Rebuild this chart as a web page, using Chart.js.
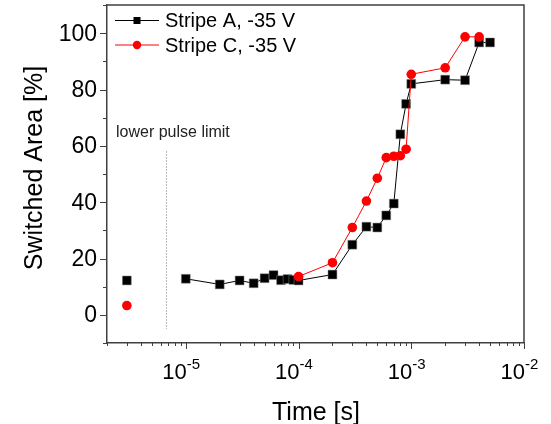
<!DOCTYPE html>
<html>
<head>
<meta charset="utf-8">
<script src="https://cdn.jsdelivr.net/npm/chart.js@4"></script>
<style>
  html, body { margin: 0; padding: 0; background: #fff; }
  #wrap { width: 551px; height: 424px; }
</style>
</head>
<body>
<div id="wrap"><canvas id="switchChart" width="551" height="424"></canvas></div>
<script>
// Switched area vs pulse time
const timesA = [3e-6, 1e-5, 2e-5, 3e-5, 4e-5, 5e-5, 6e-5, 7e-5, 8e-5, 9e-5, 1e-4, 2e-4,
                3e-4, 4e-4, 5e-4, 6e-4, 7e-4, 8e-4, 9e-4, 1e-3, 2e-3, 3e-3, 4e-3, 5e-3];
const areaA = [12.2, 12.8, 10.8, 12.2, 11.2, 13.0, 14.1, 12.3, 12.7, 12.4, 12.2, 14.3,
               24.9, 31.3, 31.0, 35.3, 39.5, 64.1, 74.9, 82.0, 83.5, 83.3, 96.7, 96.7];
const timesC = [3e-6, 1e-4, 2e-4, 3e-4, 4e-4, 5e-4, 6e-4, 7e-4, 8e-4, 9e-4, 1e-3, 2e-3, 3e-3, 4e-3];
const areaC = [3.3, 13.6, 18.5, 31.0, 40.4, 48.5, 55.8, 56.3, 56.5, 58.8, 85.4, 87.7, 98.7, 98.7];
const seriesLabels = ['Stripe A, -35 V', 'Stripe C, -35 V'];
const xDecades = [-6, -5, -4, -3, -2];
const xLabelExps = [-5, -4, -3, -2];
const yLabels = [0, 20, 40, 60, 80, 100];
const pulseLimit = 6.7e-6;

const FONT = '"Liberation Sans", Arial, sans-serif';
const AXIS = '#404040';

function toPoints(xs, ys) {
    return xs.map((x, i) => ({ x: x, y: ys[i] }));
}

// first point of each series is a separate measurement, not joined by the line
function skipFirst(color) {
    return ctx => ctx.p0DataIndex === 0 ? 'rgba(0,0,0,0)' : color;
}

const extras = {
    id: 'extras',
    afterDraw(chart) {
        const c = chart.ctx;
        const a = chart.chartArea;
        const xs = chart.scales.x;
        const ys = chart.scales.y;
        c.save();

        // frame top + right
        c.strokeStyle = AXIS;
        c.lineWidth = 1.5;
        c.beginPath();
        c.moveTo(a.left, a.top);
        c.lineTo(a.right, a.top);
        c.lineTo(a.right, a.bottom);
        c.stroke();

        // x ticks
        c.lineWidth = 1;
        c.beginPath();
        xDecades.forEach(e => {
            for (let m = 1; m <= 9; m++) {
                const v = m * Math.pow(10, e);
                if (v < xs.min * 0.999 || v > xs.max * 1.001) continue;
                const px = Math.round(xs.getPixelForValue(v)) + 0.5;
                c.moveTo(px, a.bottom);
                c.lineTo(px, a.bottom + (m === 1 ? 6 : 3));
            }
        });
        // y ticks
        for (let v = ys.min; v <= ys.max; v += 10) {
            const py = Math.round(ys.getPixelForValue(v)) + 0.5;
            c.moveTo(a.left, py);
            c.lineTo(a.left - (v % 20 === 0 ? 7 : 4), py);
        }
        c.stroke();

        // y labels
        c.fillStyle = '#000';
        c.font = '23px ' + FONT;
        c.textAlign = 'right';
        c.textBaseline = 'middle';
        yLabels.forEach(v => {
            c.fillText(String(v), a.left - 10, ys.getPixelForValue(v) + 1);
        });

        // x labels 10^n
        c.textBaseline = 'alphabetic';
        xLabelExps.forEach(e => {
            const px = xs.getPixelForValue(Math.pow(10, e));
            c.font = '22px ' + FONT;
            c.textAlign = 'right';
            c.fillText('10', px + 1, 379);
            c.font = '15px ' + FONT;
            c.textAlign = 'left';
            c.fillText(String(e), px + 1, 369);
        });

        // axis titles
        c.font = '25px ' + FONT;
        c.textAlign = 'center';
        c.fillText('Time [s]', 316, 420);
        c.save();
        c.translate(42, 168);
        c.rotate(-Math.PI / 2);
        c.fillText('Switched Area [%]', 0, 0);
        c.restore();

        // lower pulse limit marker
        const lx = Math.round(xs.getPixelForValue(pulseLimit)) + 0.5;
        c.strokeStyle = '#777';
        c.lineWidth = 1;
        c.setLineDash([1, 2]);
        c.beginPath();
        c.moveTo(lx, ys.getPixelForValue(58));
        c.lineTo(lx, ys.getPixelForValue(-5));
        c.stroke();
        c.setLineDash([]);
        c.font = '16px ' + FONT;
        c.textAlign = 'left';
        c.fillStyle = '#222';
        c.fillText('lower pulse limit', 116, 137);

        // legend
        const rows = [
            { color: '#000', style: 'rect', y: 20.5 },
            { color: '#ff0000', style: 'circle', y: 45 }
        ];
        rows.forEach((r, i) => {
            c.strokeStyle = r.color;
            c.fillStyle = r.color;
            c.lineWidth = 1;
            c.beginPath();
            c.moveTo(115, r.y);
            c.lineTo(159, r.y);
            c.stroke();
            c.beginPath();
            if (r.style === 'rect') c.rect(133.5, r.y - 3.5, 7, 7);
            else c.arc(137, r.y, 4.2, 0, Math.PI * 2);
            c.fill();
            c.fillStyle = '#000';
            c.font = '20px ' + FONT;
            c.textBaseline = 'middle';
            c.fillText(seriesLabels[i], 165, r.y + 1);
        });
        c.restore();
    }
};

const ctx = document.getElementById('switchChart').getContext('2d');
const switchChart = new Chart(ctx, {
    type: 'line',
    data: {
        datasets: [{
            label: seriesLabels[0],
            data: toPoints(timesA, areaA),
            borderColor: '#000',
            backgroundColor: '#000',
            borderWidth: 1,
            pointStyle: 'rect',
            pointRadius: 6.3,
            pointBorderWidth: 0.5,
            pointBorderColor: '#888',
            pointBackgroundColor: '#000',
            segment: { borderColor: skipFirst('#000') },
            order: 2
        }, {
            label: seriesLabels[1],
            data: toPoints(timesC, areaC),
            borderColor: '#ff0000',
            backgroundColor: '#ff0000',
            borderWidth: 1,
            pointStyle: 'circle',
            pointRadius: 4.8,
            pointBorderWidth: 0,
            pointBackgroundColor: '#ff0000',
            segment: { borderColor: skipFirst('#ff0000') },
            order: 1
        }]
    },
    options: {
        responsive: false,
        animation: false,
        events: [],
        layout: { autoPadding: false, padding: { top: 5, right: 27, left: 0, bottom: 0 } },
        plugins: {
            legend: { display: false },
            tooltip: { enabled: false }
        },
        scales: {
            x: {
                type: 'logarithmic',
                min: 2e-6,
                max: 1e-2,
                grid: { display: false, drawTicks: false },
                border: { display: true, color: AXIS, width: 1.5 },
                ticks: { display: false },
                afterFit: scale => { scale.height = 81; }
            },
            y: {
                min: -10,
                max: 110,
                grid: { display: false, drawTicks: false },
                border: { display: true, color: AXIS, width: 1.5 },
                ticks: { display: false },
                afterFit: scale => { scale.width = 107; }
            }
        }
    },
    plugins: [extras]
});
</script>
</body>
</html>
